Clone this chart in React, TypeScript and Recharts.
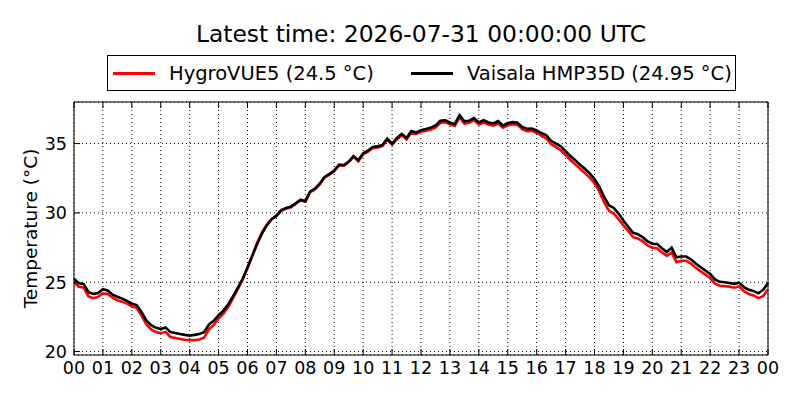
import { CartesianGrid, Line, LineChart, XAxis, YAxis } from "recharts";
import { JSX } from "react";

// 10-minute samples, 00:00 .. 24:00 UTC
const vaisala = [
  25.25, 24.92, 24.88, 24.28, 24.15, 24.22, 24.5, 24.4, 24.1, 23.95, 23.82, 23.66,
  23.45, 23.35, 22.85, 22.25, 21.9, 21.72, 21.62, 21.74, 21.4, 21.33, 21.26, 21.2,
  21.15, 21.2, 21.27, 21.4, 21.95, 22.22, 22.63, 22.95, 23.4, 24.0, 24.6, 25.25,
  26.05, 26.9, 27.75, 28.5, 29.1, 29.55, 29.8, 30.2, 30.35, 30.45, 30.7, 30.95,
  30.85, 31.55, 31.75, 32.12, 32.6, 32.82, 33.05, 33.49, 33.45, 33.7, 34.1, 33.8,
  34.3, 34.5, 34.75, 34.8, 34.9, 35.36, 35.0, 35.4, 35.7, 35.4, 35.9, 35.8,
  35.97, 36.05, 36.15, 36.3, 36.64, 36.68, 36.52, 36.4, 37.05, 36.6, 36.65, 36.84,
  36.52, 36.68, 36.52, 36.45, 36.62, 36.3, 36.48, 36.55, 36.5, 36.2, 36.06, 36.08,
  35.95, 35.76, 35.6, 35.2, 35.0, 34.8, 34.46, 34.1, 33.8, 33.48, 33.18, 32.85,
  32.45, 31.9, 31.15, 30.55, 30.36, 29.95, 29.45, 29.0, 28.57, 28.46, 28.25, 27.95,
  27.78, 27.75, 27.45, 27.18, 27.5, 26.8, 26.85, 26.85, 26.65, 26.35, 26.1, 25.85,
  25.6, 25.2, 25.03, 25.0, 24.95, 24.88, 24.97, 24.65, 24.45, 24.37, 24.2, 24.45,
  24.95,
];

const hygrovue = [
  25.0, 24.67, 24.63, 23.98, 23.85, 23.94, 24.2, 24.15, 23.88, 23.7, 23.6, 23.46,
  23.25, 23.15, 22.6, 21.97, 21.6, 21.4, 21.32, 21.42, 21.05, 20.98, 20.9, 20.85,
  20.82, 20.82, 20.87, 21.0, 21.6, 21.92, 22.38, 22.73, 23.2, 23.85, 24.5, 25.2,
  26.05, 26.95, 27.85, 28.6, 29.15, 29.55, 29.78, 30.15, 30.3, 30.4, 30.65, 30.9,
  30.8, 31.5, 31.7, 32.05, 32.55, 32.75, 33.0, 33.42, 33.4, 33.65, 34.05, 33.72,
  34.22, 34.42, 34.68, 34.72, 34.82, 35.28, 34.92, 35.3, 35.6, 35.3, 35.8, 35.7,
  35.85, 35.92, 36.02, 36.15, 36.5, 36.55, 36.4, 36.28, 36.9, 36.45, 36.5, 36.7,
  36.38, 36.52, 36.38, 36.3, 36.45, 36.15, 36.32, 36.4, 36.35, 36.05, 35.9, 35.92,
  35.78, 35.55, 35.38, 34.97, 34.75, 34.52, 34.18, 33.82, 33.5, 33.18, 32.88, 32.55,
  32.15, 31.55, 30.75, 30.15, 29.95, 29.55, 29.1, 28.7, 28.25, 28.15, 27.95, 27.65,
  27.48, 27.45, 27.15, 26.9, 27.15, 26.45, 26.55, 26.55, 26.35, 26.05, 25.8, 25.55,
  25.3, 24.9, 24.75, 24.72, 24.68, 24.6, 24.7, 24.35, 24.15, 24.05, 23.85, 24.0,
  24.5,
];

const hourTicks = [
  0, 1, 2, 3, 4, 5, 6, 7, 8, 9, 10, 11, 12, 13, 14, 15, 16, 17, 18, 19, 20, 21, 22, 23, 24,
];
const hourLabels = [
  "00", "01", "02", "03", "04", "05", "06", "07", "08", "09", "10", "11", "12",
  "13", "14", "15", "16", "17", "18", "19", "20", "21", "22", "23", "00",
];
const tempTicks = [20, 25, 30, 35];

const title = "Latest time: 2026-07-31 00:00:00 UTC";
const stepMinutes = 10;

const series = [
  { key: "hygrovue", label: "HygroVUE5", color: "#ff0000", values: hygrovue },
  { key: "vaisala", label: "Vaisala HMP35D", color: "#000000", values: vaisala },
];

const data = vaisala.map((v, i) => ({
  hour: (i * stepMinutes) / 60,
  vaisala: v,
  hygrovue: hygrovue[i],
}));

const FONT = "'DejaVu Sans', sans-serif";
const TICK = 6;

function BottomTick({ x, y, payload }: any) {
  return (
    <g>
      <line x1={x} y1={y} x2={x} y2={y - TICK} stroke="#000" />
      <text x={x} y={y + 18.5} textAnchor="middle" fontSize={17.5} fontFamily={FONT} fill="#000">
        {hourLabels[hourTicks.indexOf(payload.value)]}
      </text>
    </g>
  );
}

function TopTick({ x, y }: any) {
  return <line x1={x} y1={y} x2={x} y2={y + TICK} stroke="#000" />;
}

function LeftTick({ x, y, payload }: any) {
  return (
    <g>
      <line x1={x} y1={y} x2={x + TICK} y2={y} stroke="#000" />
      <text x={x - 7} y={y} dy="0.36em" textAnchor="end" fontSize={17.5} fontFamily={FONT} fill="#000">
        {payload.value}
      </text>
    </g>
  );
}

function RightTick({ x, y }: any) {
  return <line x1={x} y1={y} x2={x - TICK} y2={y} stroke="#000" />;
}

function YLabel({ viewBox }: any) {
  const cx = 30;
  const cy = viewBox.y + viewBox.height / 2;
  return (
    <text
      x={cx}
      y={cy}
      transform={`rotate(-90, ${cx}, ${cy})`}
      textAnchor="middle"
      dominantBaseline="central"
      fontSize={18.5}
      fontFamily={FONT}
      fill="#000"
    >
      Temperature (°C)
    </text>
  );
}

function LegendBox() {
  const offsets = [5, 303];
  return (
    <div
      style={{
        position: "absolute",
        left: 107,
        top: 55,
        width: 627,
        height: 34,
        border: "1px solid #000",
        background: "#fff",
        fontFamily: FONT,
        fontSize: 19.5,
      }}
    >
      {series.map((s, i) => (
        <div
          key={s.key}
          style={{
            position: "absolute",
            left: offsets[i],
            top: 0,
            height: 34,
            display: "flex",
            alignItems: "center",
            whiteSpace: "nowrap",
          }}
        >
          <span style={{ display: "inline-block", width: 42, height: 3, background: s.color }} />
          <span style={{ marginLeft: 14, color: "#000" }}>
            {`${s.label} (${s.values[s.values.length - 1]} °C)`}
          </span>
        </div>
      ))}
    </div>
  );
}

export default function App(): JSX.Element {
  return (
    <div
      style={{
        position: "absolute",
        left: 0,
        top: 0,
        width: 800,
        height: 400,
        background: "#fff",
      }}
    >
      <div
        style={{
          position: "absolute",
          left: 74,
          width: 694,
          top: 20,
          textAlign: "center",
          fontFamily: FONT,
          fontSize: 23.4,
          lineHeight: "28px",
          color: "#000",
        }}
      >
        {title}
      </div>
      <LineChart
        width={800}
        height={400}
        data={data}
        margin={{ top: 101, right: 31, bottom: 15, left: 24 }}
      >
        <CartesianGrid stroke="#000" strokeDasharray="1 3" strokeWidth={1} />
        <XAxis
          dataKey="hour"
          type="number"
          domain={[0, 24]}
          ticks={hourTicks}
          interval={0}
          height={30}
          tickSize={0}
          tickMargin={0}
          tickLine={false}
          axisLine={{ stroke: "#000" }}
          tick={<BottomTick />}
        />
        <XAxis
          xAxisId="top"
          orientation="top"
          dataKey="hour"
          type="number"
          domain={[0, 24]}
          ticks={hourTicks}
          interval={0}
          height={1}
          tickSize={0}
          tickMargin={0}
          tickLine={false}
          axisLine={{ stroke: "#000" }}
          tick={<TopTick />}
        />
        <YAxis
          type="number"
          domain={[19.75, 38]}
          ticks={tempTicks}
          interval={0}
          width={50}
          tickSize={0}
          tickMargin={0}
          tickLine={false}
          axisLine={{ stroke: "#000" }}
          tick={<LeftTick />}
          label={<YLabel />}
        />
        <YAxis
          yAxisId="right"
          orientation="right"
          type="number"
          domain={[19.75, 38]}
          ticks={tempTicks}
          interval={0}
          width={1}
          tickSize={0}
          tickMargin={0}
          tickLine={false}
          axisLine={{ stroke: "#000" }}
          tick={<RightTick />}
        />
        {series.map((s) => (
          <Line
            key={s.key}
            dataKey={s.key}
            stroke={s.color}
            strokeWidth={2.6}
            dot={false}
            type="linear"
            isAnimationActive={false}
          />
        ))}
      </LineChart>
      <LegendBox />
    </div>
  );
}
